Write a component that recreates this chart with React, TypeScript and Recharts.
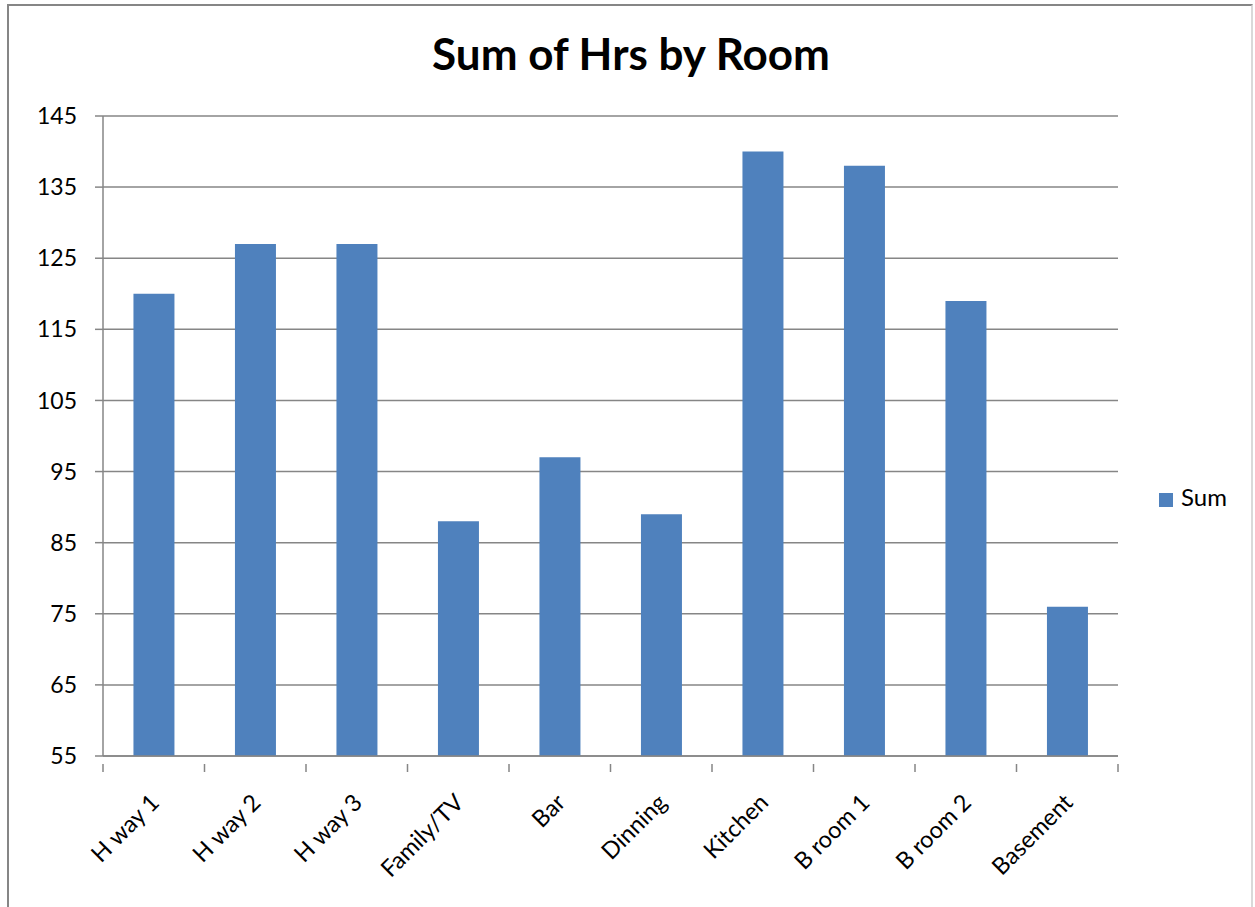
import { BarChart, Bar, XAxis, YAxis, CartesianGrid, Legend } from 'recharts'

const rooms = ['H way 1', 'H way 2', 'H way 3', 'Family/TV', 'Bar', 'Dinning', 'Kitchen', 'B room 1', 'B room 2', 'Basement']
const sumHrs = [120, 127, 127, 88, 97, 89, 140, 138, 119, 76]
const yTicks = [55, 65, 75, 85, 95, 105, 115, 125, 135, 145]

const data = rooms.map((room, i) => ({ room, Sum: sumHrs[i] }))

const W = 1255
const H = 907
const MARGIN = { top: 116, right: 137, bottom: 0, left: 0 }
const Y_AXIS_W = 103
const X_AXIS_H = 151
const AXIS_GRAY = '#868686'
const BAR_BLUE = '#4F81BD'
const FONT = 'Lato, "Open Sans", sans-serif'

const plotWidth = W - MARGIN.left - MARGIN.right - Y_AXIS_W
const band = plotWidth / rooms.length

function RoomTick(props: any) {
  const { x, y, payload, index } = props
  const left = x - band / 2
  const ax = x + 7
  const ay = y + 40
  return (
    <g>
      <line x1={left} y1={y} x2={left} y2={y + 8} stroke={AXIS_GRAY} strokeWidth={1.5} />
      {index === rooms.length - 1 && (
        <line x1={x + band / 2} y1={y} x2={x + band / 2} y2={y + 8} stroke={AXIS_GRAY} strokeWidth={1.5} />
      )}
      <text
        x={ax}
        y={ay}
        transform={`rotate(-45, ${ax}, ${ay})`}
        textAnchor="end"
        fontSize={23.5}
        fontFamily={FONT}
        fill="#000"
      >
        {payload.value}
      </text>
    </g>
  )
}

export default function App() {
  return (
    <div style={{ position: 'absolute', left: 0, top: 0, width: W, height: H, overflow: 'hidden', background: '#fff' }}>
      <div
        style={{
          position: 'absolute',
          left: 7,
          top: 4,
          width: 1246,
          height: 960,
          border: `2px solid ${AXIS_GRAY}`,
          borderRightColor: '#d9d9d9',
          boxSizing: 'border-box',
        }}
      />
      <div
        style={{
          position: 'absolute',
          left: 0,
          top: 27,
          width: 1262,
          textAlign: 'center',
          fontFamily: FONT,
          fontWeight: 700,
          fontSize: 44,
          color: '#000',
        }}
      >
        Sum of Hrs by Room
      </div>
      <div style={{ position: 'absolute', left: 0, top: 0 }}>
        <BarChart width={W} height={H} data={data} margin={MARGIN} barCategoryGap="30%">
          <CartesianGrid vertical={false} stroke={AXIS_GRAY} strokeWidth={1.5} />
          <XAxis
            dataKey="room"
            height={X_AXIS_H}
            interval={0}
            axisLine={{ stroke: AXIS_GRAY, strokeWidth: 1.5 }}
            tickLine={false}
            tick={<RoomTick />}
          />
          <YAxis
            width={Y_AXIS_W}
            domain={[55, 145]}
            ticks={yTicks}
            interval={0}
            axisLine={{ stroke: AXIS_GRAY, strokeWidth: 1.5 }}
            tickLine={{ stroke: AXIS_GRAY, strokeWidth: 1.5 }}
            tickSize={8}
            tickMargin={18}
            tick={{ fontSize: 23, fontFamily: FONT, fill: '#000' }}
          />
          <Legend
            layout="horizontal"
            verticalAlign="middle"
            align="center"
            iconType="square"
            iconSize={14}
            wrapperStyle={{ left: 1148, top: 482, width: 100, textAlign: 'left', fontFamily: FONT, fontSize: 24 }}
            formatter={(value) => <span style={{ color: '#000', marginLeft: 4 }}>{value}</span>}
          />
          <Bar dataKey="Sum" fill={BAR_BLUE} isAnimationActive={false} />
        </BarChart>
      </div>
    </div>
  )
}
